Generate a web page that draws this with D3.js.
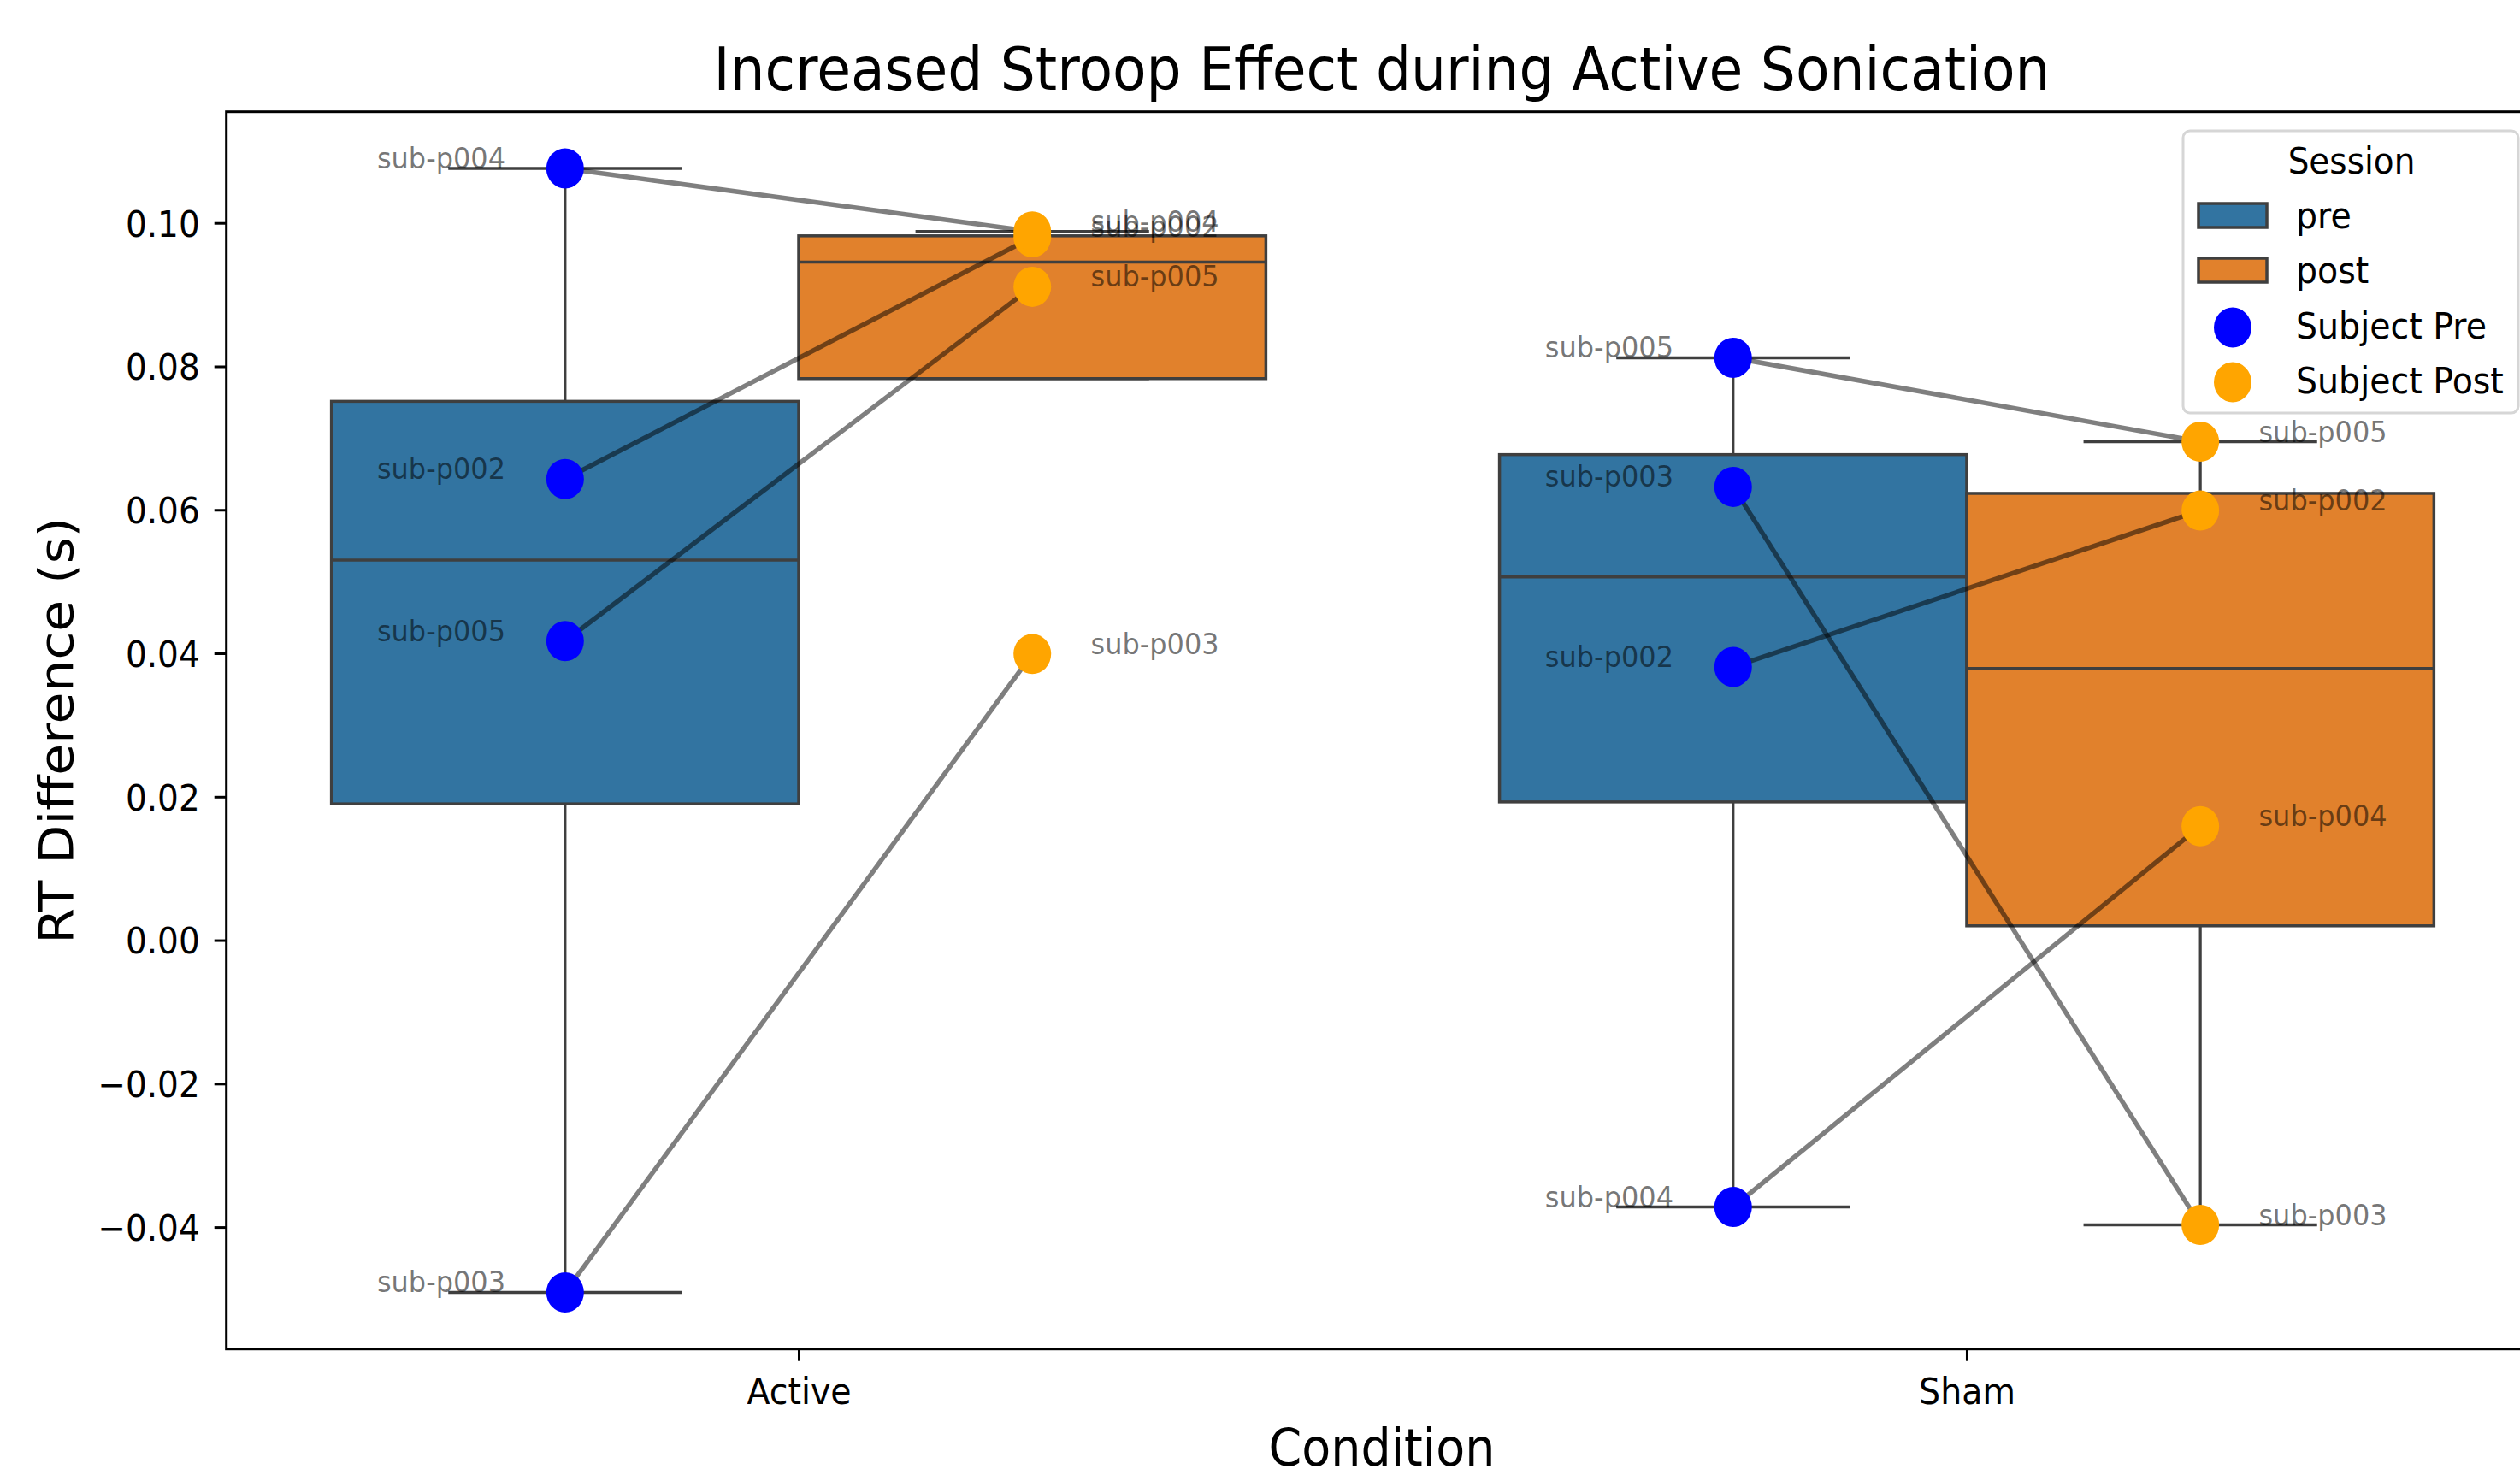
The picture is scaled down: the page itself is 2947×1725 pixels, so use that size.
<!DOCTYPE html>
<html><head><meta charset="utf-8">
<script src="https://cdn.jsdelivr.net/npm/d3@7"></script>
<style>html,body{margin:0;padding:0;background:#fff;} svg{display:block;}</style>
</head><body>
<svg id="chart" width="2947" height="1725"></svg>
<script>
// ---------------- data ----------------
const conditions = ["Active", "Sham"];
const sessions = ["pre", "post"];
const subjects = ["sub-p002", "sub-p003", "sub-p004", "sub-p005"];
const activePre  = [0.0643, -0.0491, 0.1076, 0.0417];
const activePost = [0.0980,  0.0399, 0.0988, 0.0911];
const shamPre    = [0.0381,  0.0632, -0.0372, 0.0812];
const shamPost   = [0.0599, -0.0397, 0.0159, 0.0695];
const yTicks = [-0.04, -0.02, 0.00, 0.02, 0.04, 0.06, 0.08, 0.10];
const yLimits = [-0.0570, 0.1155];
const xLimits = [-0.49, 1.4865];
const legendTitle = "Session";
const legendPatchLabels = ["pre", "post"];
const legendPointLabels = ["Subject Pre", "Subject Post"];
const titleText = "Increased Stroop Effect during Active Sonication";
const xLabelText = "Condition";
const yLabelText = "RT Difference (s)";

const values = {Active: {pre: activePre, post: activePost}, Sham: {pre: shamPre, post: shamPost}};

// ---------------- styles ----------------
const W = 2947, H = 1725;
const m = {left: 264.7, top: 130.7, bottom: 1577.7, right: 2964.5};
const SY = 1.08; // vertical stretch of the reference raster
const FONT = "DejaVu Sans";
const boxColors = {pre: "#3274a1", post: "#e1812c"};
const pointColors = {pre: "#0000ff", post: "#ffa500"};
const lineColor = "#3f3f3f";

const svg = d3.select("#chart");
svg.append("rect").attr("width", W).attr("height", H).attr("fill", "#fff");

const x = d3.scaleLinear().domain(xLimits).range([m.left, m.right]);
const y = d3.scaleLinear().domain(yLimits).range([m.bottom, m.top]);
const dodge = {pre: -0.2, post: 0.2};
const boxW = 0.4, capHalf = 0.1;

function placeText(sel, px, py, extra) {
  sel.attr("transform", `translate(${px},${py}) scale(1,${SY})` + (extra || ""));
  return sel;
}

function boxStats(vals) {
  const s = vals.slice().sort(d3.ascending);
  const q1 = d3.quantileSorted(s, 0.25), med = d3.quantileSorted(s, 0.5), q3 = d3.quantileSorted(s, 0.75);
  const iqr = q3 - q1, lo = q1 - 1.5 * iqr, hi = q3 + 1.5 * iqr;
  let wlo = d3.min(s.filter(v => v >= lo));
  if (wlo === undefined || wlo > q1) wlo = q1;
  let whi = d3.max(s.filter(v => v <= hi));
  if (whi === undefined || whi < q3) whi = q3;
  return {q1, med, q3, wlo, whi};
}

// ---------------- boxes ----------------
const gBox = svg.append("g");
conditions.forEach((c, ci) => {
  sessions.forEach(s => {
    const st = boxStats(values[c][s]);
    const cx = ci + dodge[s];
    const g = gBox.append("g");
    g.append("line").attr("x1", x(cx)).attr("x2", x(cx)).attr("y1", y(st.q3)).attr("y2", y(st.whi))
      .attr("stroke", lineColor).attr("stroke-width", 3.2);
    g.append("line").attr("x1", x(cx)).attr("x2", x(cx)).attr("y1", y(st.q1)).attr("y2", y(st.wlo))
      .attr("stroke", lineColor).attr("stroke-width", 3.2);
    g.append("rect").attr("x", x(cx - boxW / 2)).attr("width", x(cx + boxW / 2) - x(cx - boxW / 2))
      .attr("y", y(st.q3)).attr("height", y(st.q1) - y(st.q3))
      .attr("fill", boxColors[s]).attr("stroke", lineColor).attr("stroke-width", 3.5);
    g.append("line").attr("x1", x(cx - boxW / 2)).attr("x2", x(cx + boxW / 2)).attr("y1", y(st.med)).attr("y2", y(st.med))
      .attr("stroke", lineColor).attr("stroke-width", 3.5);
    [st.wlo, st.whi].forEach(v => {
      g.append("line").attr("x1", x(cx - capHalf)).attr("x2", x(cx + capHalf)).attr("y1", y(v)).attr("y2", y(v))
        .attr("stroke", lineColor).attr("stroke-width", 3.5);
    });
  });
});

// ---------------- subject lines ----------------
const gLines = svg.append("g");
conditions.forEach((c, ci) => {
  subjects.forEach((sub, i) => {
    gLines.append("line")
      .attr("x1", x(ci + dodge.pre)).attr("y1", y(values[c].pre[i]))
      .attr("x2", x(ci + dodge.post)).attr("y2", y(values[c].post[i]))
      .attr("stroke", "#000").attr("stroke-opacity", 0.5).attr("stroke-width", 5.5);
  });
});

// ---------------- points ----------------
const gPts = svg.append("g");
conditions.forEach((c, ci) => {
  sessions.forEach(s => {
    values[c][s].forEach(v => {
      gPts.append("ellipse").attr("cx", x(ci + dodge[s])).attr("cy", y(v))
        .attr("rx", 22).attr("ry", 23.5).attr("fill", pointColors[s]);
    });
  });
});

// ---------------- subject labels ----------------
const gLab = svg.append("g").attr("font-family", FONT).attr("font-size", 32);
const labelOffset = {pre: -0.161, post: 0.05};
conditions.forEach((c, ci) => {
  sessions.forEach(s => {
    values[c][s].forEach((v, i) => {
      placeText(gLab.append("text").text(subjects[i]).attr("fill", "#000").attr("fill-opacity", 0.55),
        x(ci + dodge[s] + labelOffset[s]), y(v));
    });
  });
});

// ---------------- axes ----------------
const axesG = svg.append("g");
axesG.append("rect").attr("x", m.left).attr("y", m.top).attr("width", m.right - m.left).attr("height", m.bottom - m.top)
  .attr("fill", "none").attr("stroke", "#000").attr("stroke-width", 3);

const yAxis = svg.append("g").attr("transform", `translate(${m.left},0)`)
  .call(d3.axisLeft(y).tickValues(yTicks).tickFormat(d3.format(".2f")).tickSize(14).tickPadding(17));
yAxis.select(".domain").remove();
yAxis.selectAll(".tick line").attr("stroke", "#000").attr("stroke-width", 3);
yAxis.selectAll(".tick text").each(function () {
  d3.select(this).attr("x", null).attr("dy", null).attr("font-family", FONT).attr("font-size", 39)
    .attr("fill", "#000").attr("text-anchor", "end")
    .attr("transform", `translate(-31,0) scale(1,${SY}) translate(0,${0.365 * 39})`);
});

const xAxis = svg.append("g").attr("transform", `translate(0,${m.bottom})`)
  .call(d3.axisBottom(x).tickValues([0, 1]).tickFormat(i => conditions[i]).tickSize(14).tickPadding(10));
xAxis.select(".domain").remove();
xAxis.selectAll(".tick line").attr("stroke", "#000").attr("stroke-width", 3);
xAxis.selectAll(".tick text").each(function () {
  d3.select(this).attr("y", null).attr("dy", null).attr("font-family", FONT).attr("font-size", 39.5)
    .attr("fill", "#000").attr("text-anchor", "middle")
    .attr("transform", `translate(0,64) scale(1,${SY})`);
});

// titles
placeText(svg.append("text").text(titleText).attr("font-family", FONT).attr("font-size", 64.7)
  .attr("text-anchor", "middle").attr("fill", "#000"), 1616, 105);
placeText(svg.append("text").text(xLabelText).attr("font-family", FONT).attr("font-size", 55.5)
  .attr("text-anchor", "middle").attr("fill", "#000"), 1616, 1714);
placeText(svg.append("text").text(yLabelText).attr("font-family", FONT).attr("font-size", 55.5)
  .attr("text-anchor", "middle").attr("fill", "#000"), 85, (m.top + m.bottom) / 2, " rotate(-90)");

// ---------------- legend ----------------
const lg = svg.append("g").attr("font-family", FONT);
lg.append("rect").attr("x", 2553).attr("y", 153).attr("width", 392).attr("height", 330).attr("rx", 8)
  .attr("fill", "#fff").attr("fill-opacity", 0.8).attr("stroke", "#d6d6d6").attr("stroke-width", 3);
placeText(lg.append("text").text(legendTitle).attr("font-size", 39).attr("text-anchor", "middle"), 2750, 203);
const patchY = [252, 316];
legendPatchLabels.forEach((lab, i) => {
  lg.append("rect").attr("x", 2571).attr("y", patchY[i] - 14).attr("width", 80).attr("height", 28)
    .attr("fill", boxColors[sessions[i]]).attr("stroke", lineColor).attr("stroke-width", 3.5);
  placeText(lg.append("text").text(lab).attr("font-size", 39.5), 2685, patchY[i] + 14.5);
});
const markY = [383, 447];
legendPointLabels.forEach((lab, i) => {
  lg.append("ellipse").attr("cx", 2611).attr("cy", markY[i]).attr("rx", 22).attr("ry", 23.5)
    .attr("fill", pointColors[sessions[i]]);
  placeText(lg.append("text").text(lab).attr("font-size", 39.5), 2685, markY[i] + 12.5);
});
</script>
</body></html>
